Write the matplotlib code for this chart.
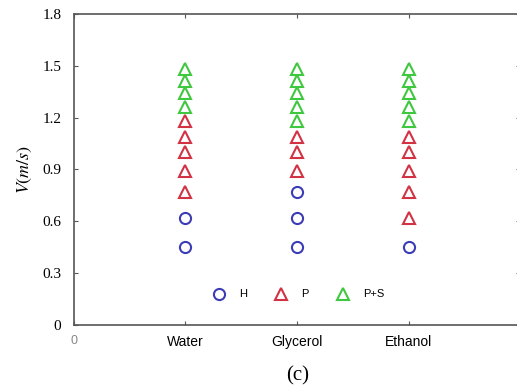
import matplotlib
matplotlib.use("Agg")
import matplotlib.pyplot as plt

# liquids on the x axis
liquids = ["Water", "Glycerol", "Ethanol"]
liquid_pos = [1, 2, 3]

# velocities (m/s) per regime, one list per liquid
h_vals = {
    "Water": [0.45, 0.62],
    "Glycerol": [0.45, 0.62, 0.77],
    "Ethanol": [0.45],
}
p_vals = {
    "Water": [0.77, 0.89, 1.00, 1.09, 1.18],
    "Glycerol": [0.89, 1.00, 1.09],
    "Ethanol": [0.62, 0.77, 0.89, 1.00, 1.09],
}
ps_vals = {
    "Water": [1.26, 1.34, 1.41, 1.48],
    "Glycerol": [1.18, 1.26, 1.34, 1.41, 1.48],
    "Ethanol": [1.18, 1.26, 1.34, 1.41, 1.48],
}

y_ticks = [0, 0.3, 0.6, 0.9, 1.2, 1.5, 1.8]

blue = "#3c3cb4"
red = "#d23244"
green = "#3fc83f"

plt.rcParams["mathtext.fontset"] = "stix"

fig = plt.figure(figsize=(5.17, 3.85), dpi=100)
ax = fig.add_axes([0.143, 0.156, 0.863, 0.808])

style = dict(linestyle="none", markerfacecolor="none", markeredgewidth=1.5)
for i, (name, x) in enumerate(zip(liquids, liquid_pos)):
    ax.plot([x] * len(h_vals[name]), h_vals[name], marker="o", markersize=8,
            markeredgecolor=blue, label="H" if i == 0 else None, **style)
    ax.plot([x] * len(p_vals[name]), p_vals[name], marker="^", markersize=9,
            markeredgecolor=red, label="P" if i == 0 else None, **style)
    ax.plot([x] * len(ps_vals[name]), ps_vals[name], marker="^", markersize=9,
            markeredgecolor=green, label="P+S" if i == 0 else None, **style)

ax.set_xlim(0, 4)
ax.set_ylim(0, 1.8)
ax.set_xticks([0] + liquid_pos)
ax.set_xticklabels(["0"] + liquids, fontfamily="Liberation Sans", fontsize=10)
ax.get_xticklabels()[0].set_color("#888888")
ax.get_xticklabels()[0].set_fontsize(9)
ax.set_yticks(y_ticks)
ax.set_yticklabels(["0", "0.3", "0.6", "0.9", "1.2", "1.5", "1.8"],
                   fontfamily="Liberation Serif", fontsize=11)
ax.tick_params(direction="in", top=True, right=True, length=3, color="#555555")
ax.tick_params(axis="x", pad=7)
ax.tick_params(axis="y", pad=9)
for s in ax.spines.values():
    s.set_color("#555555")
    s.set_linewidth(1.2)

ax.set_ylabel(r"$V(m/s)$", fontsize=13, labelpad=6)

ax.legend(loc="center", bbox_to_anchor=(0.503, 0.098), ncol=3, frameon=False,
          prop={"family": "Liberation Sans", "size": 8}, handletextpad=1.2,
          columnspacing=2.5, handlelength=1.2)

fig.text(0.575, 0.012, "(c)", fontfamily="Liberation Serif", fontsize=15,
         ha="center")

fig.savefig("out.png", dpi=100)
